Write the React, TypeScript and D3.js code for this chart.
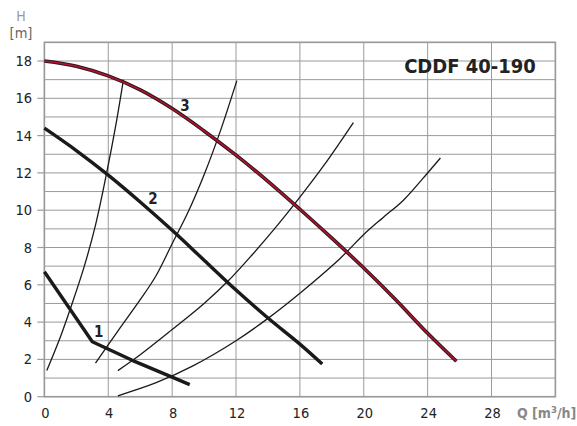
import React from "react";
import * as d3 from "d3";

const xTicks = [0, 4, 8, 12, 16, 20, 24, 28];
const yTicks = [0, 2, 4, 6, 8, 10, 12, 14, 16, 18];
const yGrid = d3.range(0, 20, 1);
const xGrid = d3.range(0, 33, 4);

// pump curves [Q, H]
const curve1: [number, number][] = [[0, 6.7], [3.0, 2.95], [5.5, 1.95], [8, 1.05], [9.1, 0.65]];
const curve2: [number, number][] = [[0, 14.4], [2, 13.2], [4, 11.88], [6, 10.44], [8, 8.92], [10, 7.32], [12, 5.72], [14, 4.22], [16, 2.82], [17.4, 1.75]];
const curve3: [number, number][] = [[0, 18], [2, 17.72], [4, 17.2], [6, 16.45], [8, 15.45], [10, 14.25], [12, 12.95], [14, 11.55], [16, 10.05], [18, 8.5], [20, 6.9], [22, 5.2], [24, 3.4], [25.8, 1.9]];

// system curves
const sysA: [number, number][] = [[0.15, 1.4], [1.0, 3.2], [1.7, 4.9], [2.5, 7.0], [3.2, 9.2], [3.9, 12.0], [4.5, 14.7], [4.95, 17.0]];
const sysB: [number, number][] = [[3.2, 1.8], [4.5, 3.4], [6, 5.2], [7, 6.5], [8, 8.2], [9, 9.9], [10, 11.9], [11, 14.2], [12.05, 16.95]];
const sysC: [number, number][] = [[4.6, 1.4], [6, 2.25], [8, 3.6], [10, 5.0], [11.5, 6.2], [13, 7.6], [14.6, 9.2], [16, 10.7], [17.5, 12.4], [19.35, 14.7]];
const sysD: [number, number][] = [[4.6, 0.05], [7, 0.75], [9.3, 1.65], [12, 3.0], [14, 4.2], [16, 5.55], [18.5, 7.4], [20, 8.7], [21.2, 9.6], [22.5, 10.55], [24.05, 12.05], [24.8, 12.8]];

const labels: { t: string; q: number; h: number }[] = [
  { t: "1", q: 3.4, h: 3.5 },
  { t: "2", q: 6.8, h: 10.6 },
  { t: "3", q: 8.8, h: 15.6 },
];

const W = 577;
const H = 426;
const font = "'DejaVu Sans Condensed', 'DejaVu Sans', sans-serif";

export default function App() {
  const x = d3.scaleLinear().domain([0, 32]).range([44.4, 555.4]);
  const y = d3.scaleLinear().domain([0, 19]).range([396.7, 42.35]);
  const smooth = d3.line<[number, number]>().x((d) => x(d[0])).y((d) => y(d[1])).curve(d3.curveCatmullRom.alpha(0.5));
  const lin = d3.line<[number, number]>().x((d) => x(d[0])).y((d) => y(d[1]));
  const grid = "#9a9a9a";
  return (
    <svg width={W} height={H} style={{ position: "absolute", left: 0, top: 0, background: "#fff" }}>
      <rect x={0} y={0} width={W} height={H} fill="#fff" />
      {yGrid.map((v) => (
        <line key={"hy" + v} x1={x(0)} x2={x(32)} y1={y(v)} y2={y(v)} stroke={grid} strokeWidth={1} />
      ))}
      {xGrid.map((v) => (
        <line key={"vx" + v} x1={x(v)} x2={x(v)} y1={y(0)} y2={y(19)} stroke={grid} strokeWidth={1} />
      ))}
      <rect x={x(0)} y={y(19)} width={x(32) - x(0)} height={y(0) - y(19)} fill="none" stroke="#9a9a9a" strokeWidth={1.6} />
      {yTicks.map((v) => (
        <g key={"yt" + v}>
          <line x1={x(0) - 7} x2={x(0)} y1={y(v)} y2={y(v)} stroke="#9a9a9a" strokeWidth={1.2} />
          <text x={32} y={y(v)} dy="0.35em" textAnchor="end" fontFamily={font} fontSize={14.5} fill="#222">{v}</text>
        </g>
      ))}
      {xTicks.map((v) => (
        <text key={"xt" + v} x={x(v) + 1} y={418} textAnchor="middle" fontFamily={font} fontSize={14.5} fill="#222">{v}</text>
      ))}
      <text x={21} y={21} textAnchor="middle" fontFamily={font} fontSize={14} fill="#999">H</text>
      <text x={21} y={38} textAnchor="middle" fontFamily={font} fontSize={14.5} fill="#666">[m]</text>
      <text x={517} y={418} fontFamily={font} fontSize={14} fontWeight="bold" fill="#888">
        Q [m<tspan dy={-5} fontSize={9.5}>3</tspan><tspan dy={5}>/h]</tspan>
      </text>
      <text x={470} y={73} textAnchor="middle" fontFamily={font} fontSize={20} fontWeight="bold" fill="#222">CDDF 40-190</text>

      {[sysA, sysB, sysC, sysD].map((s, i) => (
        <path key={"s" + i} d={smooth(s) || ""} fill="none" stroke="#1a1a1a" strokeWidth={1.3} />
      ))}
      <path d={lin(curve1) || ""} fill="none" stroke="#1a1a1a" strokeWidth={3.4} strokeLinejoin="round" />
      <path d={smooth(curve2) || ""} fill="none" stroke="#1a1a1a" strokeWidth={3.4} />
      <path d={smooth(curve3) || ""} fill="none" stroke="#2a1a1e" strokeWidth={3.6} />
      <path d={smooth(curve3) || ""} fill="none" stroke="#b8102e" strokeWidth={1.6} />
      {labels.map((l) => (
        <text key={"l" + l.t} x={x(l.q)} y={y(l.h)} textAnchor="middle" dy="0.35em" fontFamily={font} fontSize={15} fontWeight="bold" fill="#222">{l.t}</text>
      ))}
    </svg>
  );
}
